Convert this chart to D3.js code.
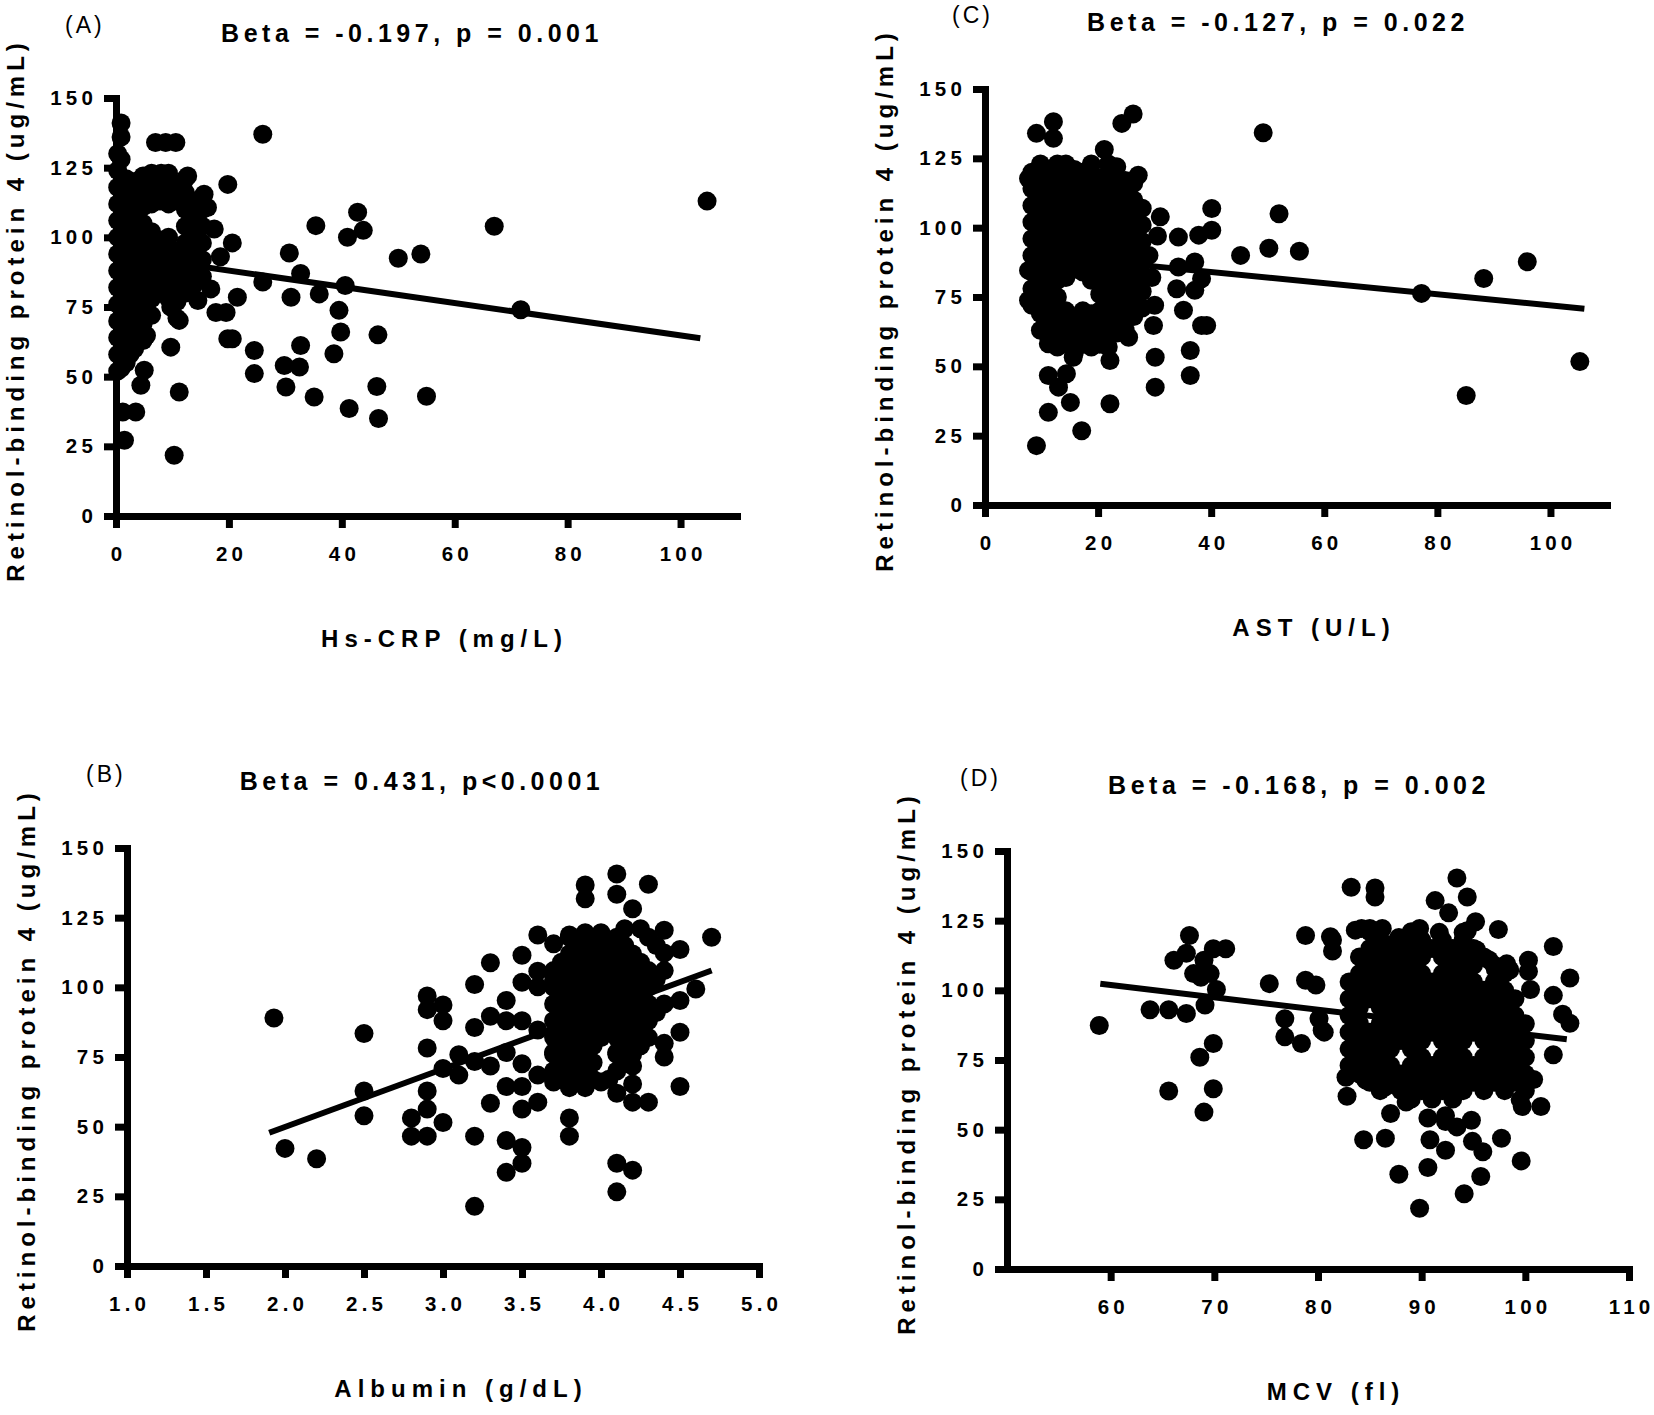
<!DOCTYPE html>
<html>
<head>
<meta charset="utf-8">
<script src="https://cdn.jsdelivr.net/npm/d3@7"></script>
<style>
  body { margin: 0; background: #fff; }
  svg text { font-family: "Liberation Sans", Arial, sans-serif; fill: #000; }
</style>
</head>
<body>
<div id="chart"></div>
<script>
// ---- values ----
const rbpTicks = [0, 25, 50, 75, 100, 125, 150];
const crpTicks = [0, 20, 40, 60, 80, 100];
const astTicks = [0, 20, 40, 60, 80, 100];
const albTicks = [1.0, 1.5, 2.0, 2.5, 3.0, 3.5, 4.0, 4.5, 5.0];
const mcvTicks = [60, 70, 80, 90, 100, 110];

// regression lines: [intercept, slope, xFrom, xTo]
const crpFit = [93.9, -0.291, 0, 103.5];
const astFit = [92, -0.2, 9, 106];
const albFit = [8.3, 20.8, 1.9, 4.7];
const mcvFit = [128.5, -0.443, 59, 104];

// (A) Hs-CRP vs RBP4
const crpPoints = [
  [26,137],[7,134],[8.8,134],[10.6,134],[0.9,141],[0.9,136],[0.9,128],[12.7,122],[19.8,119],[8,123],
  [15.6,115.5],[16.2,110.7],[17.4,103],[20.6,98],[18.5,93],[30.7,94.4],[35.4,104.2],[42.8,109],[43.8,102.5],[41,100],
  [32.7,87],[26,84],[40.6,82.7],[21.5,78.5],[31,78.5],[36,79.7],[39.5,73.8],[17.7,73],[19.5,73],[39.8,66],
  [19.8,63.6],[20.6,63.6],[24.5,59.4],[32.7,61.2],[38.6,58.2],[24.5,51.1],[29.8,54],[32.5,53.5],[30.1,46.3],[35.1,42.7],
  [41.3,38.6],[9.7,60.6],[11.2,44.5],[10.3,21.8],[5,52.3],[4.4,46.9],[1.2,37.3],[3.5,37.3],[1.5,27.2],[5.4,64.8],
  [9.7,75],[11.2,70.2],[14.5,77.3],[16.8,81.5],[104.7,113],[67,104],[71.7,74],[50,92.5],[54,94],[55,43],
  [46.2,46.5],[46.4,65],[46.5,35],[0.9,53],[2.5,58],
  [0.3,52],[0.3,58],[0.3,64],[0.3,70],[0.3,76],[0.3,82],[0.3,88],[0.3,94],[0.3,100],[0.3,106],[0.3,112],[0.3,118],[0.3,124],[0.3,130],
  [1.8,55],[1.8,61],[1.8,67],[1.8,73],[1.8,79],[1.8,85],[1.8,91],[1.8,97],[1.8,103],[1.8,109],[1.8,115],[1.8,121],
  [3.3,60],[3.3,66],[3.3,72],[3.3,78],[3.3,84],[3.3,90],[3.3,96],[3.3,102],[3.3,108],[3.3,114],[3.3,120],
  [4.8,63],[4.8,69],[4.8,75],[4.8,81],[4.8,87],[4.8,93],[4.8,99],[4.8,105],[4.8,111],[4.8,117],[4.8,122],
  [6.3,72],[6.3,78],[6.3,84],[6.3,90],[6.3,96],[6.3,102],[6.3,112],[6.3,118],[6.3,123],
  [7.8,81],[7.8,87],[7.8,93],[7.8,99],[7.8,113],[7.8,119],
  [9.3,78],[9.3,84],[9.3,90],[9.3,96],[9.3,100],[9.3,112],[9.3,118],[9.3,123],
  [10.8,71],[10.8,77],[10.8,83],[10.8,89],[10.8,95],[10.8,113],[10.8,119],
  [12.3,80],[12.3,86],[12.3,92],[12.3,98],[12.3,104],[12.3,110],[12.3,116],[12.3,121],
  [13.8,83],[13.8,89],[13.8,95],[13.8,101],[13.8,107],[13.8,113],
  [15.3,86],[15.3,92],[15.3,98],[15.3,104],[15.3,110]
];

// (C) AST vs RBP4
const astPoints = [
  [9.1,134],[12.1,138.2],[12.1,132.2],[24.2,137.6],[26.2,141],[21.1,128.2],[7.7,117.7],[27.1,118.9],[31,103.9],[40.1,106.9],
  [40.1,99.1],[37.8,97.3],[34.2,96.6],[52,105],[50.2,92.6],[45.2,90],[37.1,87.6],[38.3,81.6],[34.2,85.8],[33.9,78],
  [37.1,77.4],[35.1,70.2],[38.3,64.7],[39.2,64.7],[36.3,55.7],[36.3,46.7],[30.1,53.3],[30.1,42.5],[22.1,52.1],[22.1,36.5],
  [17.1,26.8],[9.1,21.4],[11.2,33.4],[15.1,37],[13,42.5],[11.2,46.7],[14.4,47.3],[11.2,58.1],[15.6,53.3],[29.8,64.7],
  [25.4,60.5],[7.7,73.8],[7.7,84.6],[105.2,51.7],[95.9,87.7],[88.2,81.7],[85.1,39.5],[77.2,76.3],[55.6,91.5],[49.2,134.2],
  [30.5,97],[29.5,82],[30,72],[29,90],
  [8.3,72],[8.3,78],[8.3,84],[8.3,90],[8.3,96],[8.3,102],[8.3,108],[8.3,114],[8.3,120],
  [9.8,63],[9.8,69],[9.8,75],[9.8,81],[9.8,87],[9.8,93],[9.8,99],[9.8,105],[9.8,111],[9.8,117],[9.8,123],
  [11.3,60],[11.3,66],[11.3,72],[11.3,78],[11.3,84],[11.3,90],[11.3,96],[11.3,102],[11.3,108],[11.3,114],[11.3,120],
  [12.8,57],[12.8,63],[12.8,69],[12.8,75],[12.8,81],[12.8,87],[12.8,93],[12.8,99],[12.8,105],[12.8,111],[12.8,117],[12.8,123],
  [14.3,58],[14.3,64],[14.3,70],[14.3,82],[14.3,88],[14.3,94],[14.3,100],[14.3,106],[14.3,112],[14.3,118],[14.3,123],
  [15.8,55],[15.8,61],[15.8,67],[15.8,85],[15.8,91],[15.8,97],[15.8,103],[15.8,109],[15.8,115],[15.8,121],
  [17.3,58],[17.3,64],[17.3,70],[17.3,84],[17.3,90],[17.3,96],[17.3,102],[17.3,108],[17.3,114],[17.3,120],
  [18.8,57],[18.8,63],[18.8,69],[18.8,81],[18.8,87],[18.8,93],[18.8,99],[18.8,105],[18.8,111],[18.8,117],[18.8,123],
  [20.3,58],[20.3,64],[20.3,70],[20.3,76],[20.3,82],[20.3,88],[20.3,94],[20.3,100],[20.3,106],[20.3,112],[20.3,118],
  [21.8,57],[21.8,63],[21.8,69],[21.8,75],[21.8,81],[21.8,87],[21.8,93],[21.8,99],[21.8,105],[21.8,111],[21.8,117],[21.8,123],
  [23.3,62],[23.3,68],[23.3,74],[23.3,80],[23.3,86],[23.3,92],[23.3,98],[23.3,104],[23.3,110],[23.3,116],[23.3,122],
  [24.8,63],[24.8,69],[24.8,75],[24.8,81],[24.8,87],[24.8,93],[24.8,99],[24.8,105],[24.8,111],[24.8,117],
  [26.3,68],[26.3,74],[26.3,80],[26.3,86],[26.3,92],[26.3,98],[26.3,104],[26.3,110],[26.3,116],
  [27.8,71],[27.8,77],[27.8,83],[27.8,89],[27.8,95],[27.8,101],[27.8,107]
];

// (B) Albumin vs RBP4
const albPoints = [
  [1.93,89],[2.0,42.2],[2.2,38.5],[2.5,83.4],[2.5,62.8],[2.5,53.9],[2.8,53.1],[2.8,46.6],[2.9,96.9],[2.9,92],
  [2.9,78.2],[2.9,62.8],[2.9,56.3],[2.9,46.6],[3.0,93.7],[3.0,88],[3.0,70.9],[3.0,51.5],[3.1,75.8],[3.1,68.5],
  [3.2,101],[3.3,108.8],[3.2,85.6],[3.2,73.4],[3.3,89.6],[3.3,71.8],[3.2,46.6],[3.2,21.4],[3.3,58.4],[3.4,95.3],
  [3.4,88],[3.4,76.6],[3.4,64.4],[3.4,45],[3.4,33.6],[3.5,111.5],[3.5,101.8],[3.5,88],[3.5,72.6],[3.5,64.4],
  [3.5,56.3],[3.5,42.5],[3.5,36.9],[3.6,118.8],[3.6,105.8],[3.6,100.2],[3.6,84.7],[3.6,68.5],[3.6,58.8],[3.7,115.6],
  [3.7,102.6],[3.7,76.6],[3.7,66],[3.8,118.8],[3.8,53.1],[3.8,46.6],[3.9,119.6],[4.0,119.6],[3.9,136.7],[3.9,131.8],
  [4.1,140.7],[4.1,133.4],[4.2,128.2],[4.3,137],[4.1,36.9],[4.2,34.4],[4.1,26.6],[4.3,58.8],[4.4,120.5],[4.4,112.3],
  [4.4,75],[4.5,113.6],[4.5,83.9],[4.5,64.4],[4.5,95.3],[4.6,99.4],[4.7,118],[4.4,79.9],[4.2,58.8],[4.1,62],
  [4.1,76.6],[4.2,71.8],[4.2,65.3],
  [3.7,70],[3.7,76],[3.7,82],[3.7,88],[3.7,94],[3.7,100],[3.7,106],
  [3.75,67],[3.75,73],[3.75,79],[3.75,85],[3.75,91],[3.75,97],[3.75,103],[3.75,109],
  [3.8,64],[3.8,70],[3.8,76],[3.8,82],[3.8,88],[3.8,94],[3.8,100],[3.8,106],[3.8,112],[3.8,118],
  [3.85,67],[3.85,73],[3.85,79],[3.85,85],[3.85,91],[3.85,97],[3.85,103],[3.85,109],[3.85,115],
  [3.9,64],[3.9,70],[3.9,76],[3.9,82],[3.9,88],[3.9,94],[3.9,100],[3.9,106],[3.9,112],[3.9,118],
  [3.95,67],[3.95,73],[3.95,79],[3.95,85],[3.95,91],[3.95,97],[3.95,103],[3.95,109],[3.95,115],
  [4.0,66],[4.0,82],[4.0,88],[4.0,94],[4.0,100],[4.0,106],[4.0,112],[4.0,118],
  [4.05,67],[4.05,85],[4.05,91],[4.05,97],[4.05,103],[4.05,109],[4.05,115],
  [4.1,70],[4.1,76],[4.1,82],[4.1,88],[4.1,94],[4.1,100],[4.1,106],[4.1,112],[4.1,118],
  [4.15,73],[4.15,79],[4.15,85],[4.15,91],[4.15,97],[4.15,103],[4.15,109],[4.15,115],[4.15,121],
  [4.2,76],[4.2,82],[4.2,88],[4.2,94],[4.2,100],[4.2,106],[4.2,112],
  [4.25,79],[4.25,85],[4.25,91],[4.25,97],[4.25,103],[4.25,109],[4.25,121],
  [4.3,82],[4.3,88],[4.3,94],[4.3,100],[4.3,106],[4.3,118],
  [4.35,91],[4.35,103],[4.35,115],
  [4.4,94],[4.4,106]
];

// (D) MCV vs RBP4
const mcvPoints = [
  [58.9,87.4],[63.8,93],[65.6,93],[65.6,63.9],[67.3,113.3],[67.6,119.7],[66.1,110.8],[67.3,91.7],[68,106],[69,110.8],
  [68.7,104.7],[69.6,106],[69.1,94.7],[69.9,114.9],[71.1,114.9],[70.2,100.3],[68.6,76],[69.9,80.9],[69.9,64.7],[69,56.3],
  [75.3,102.4],[76.8,89.8],[76.8,83.3],[78.4,80.9],[78.8,119.7],[78.8,103.6],[79.8,101.9],[80.1,89.8],[80.6,85],[81.4,118.1],
  [81.4,114.1],[83.2,137],[85.5,136.7],[85.5,133.5],[82.7,68.8],[82.8,62],[84.4,46.4],[86.5,46.9],[87,55.8],[87.8,34],
  [88.5,59.9],[89.8,21.8],[90.6,54.2],[90.8,46.4],[90.6,36.4],[92.3,42.6],[91.3,132.2],[92.6,127.8],[93.4,140.3],[94.4,133.5],
  [94.1,27],[94.9,45.8],[95.9,42.1],[95.7,33.2],[97.7,46.9],[97.4,121.8],[99.6,38.8],[102.7,115.7],[102.7,98.2],[103.6,91.4],
  [104.3,88.2],[104.3,104.4],[102.7,76.9],[101.5,58.3],[99.7,58.3],[100.8,68],[100.3,110.8],[100.3,106.8],[100.5,100.3],[95.2,124.6],
  [94.4,121.4],[89.8,122.2],[87.2,116.5],[88,114],[84.2,122.2],[85,122.2],[86.2,122.2],[98.2,109.5],[97.1,107.6],[99.5,60.7],
  [92.3,52.9],[93.4,51],[94.8,53.4],[92.3,55],[83.8,77.3],[84.6,67.8],[86.5,65.4],[80.4,85.7],[81.2,119.2],
  [83.6,121.6],[85.2,121.6],[87.8,119],[91.7,120.8],[94,120.8],[95.3,114.5],[96.5,110.9],[98.5,107.3],
  [83,73],[83,79],[83,85],[83,91],[83,97],[83,103],
  [84,70],[84,76],[84,82],[84,88],[84,94],[84,100],[84,106],[84,112],
  [85,67],[85,73],[85,79],[85,85],[85,97],[85,103],[85,109],[85,115],[85,121],
  [86,64],[86,70],[86,76],[86,82],[86,88],[86,94],[86,100],[86,106],[86,112],[86,118],
  [87,67],[87,73],[87,79],[87,85],[87,91],[87,97],[87,103],[87,109],[87,115],
  [88,64],[88,70],[88,82],[88,88],[88,94],[88,100],[88,106],[88,112],[88,118],
  [89,61],[89,67],[89,73],[89,79],[89,85],[89,91],[89,97],[89,103],[89,109],[89,115],[89,121],
  [90,64],[90,70],[90,76],[90,82],[90,88],[90,94],[90,100],[90,106],[90,112],[90,118],
  [91,61],[91,67],[91,73],[91,85],[91,91],[91,97],[91,103],[91,115],
  [92,64],[92,70],[92,76],[92,82],[92,88],[92,94],[92,100],[92,106],[92,112],[92,118],
  [93,61],[93,67],[93,73],[93,79],[93,85],[93,91],[93,97],[93,103],[93,109],[93,115],
  [94,64],[94,70],[94,76],[94,82],[94,88],[94,94],[94,100],[94,106],[94,112],[94,118],
  [95,67],[95,73],[95,85],[95,91],[95,97],[95,103],[95,109],[95,115],
  [96,64],[96,70],[96,76],[96,82],[96,88],[96,94],[96,100],[96,112],
  [97,67],[97,73],[97,79],[97,85],[97,91],[97,97],[97,103],[97,109],
  [98,64],[98,70],[98,76],[98,82],[98,88],[98,94],[98,100],[98,106],
  [99,67],[99,73],[99,79],[99,85],[99,91],[99,97],
  [100,64],[100,70],[100,76],[100,82],[100,88]
];

// ---- layout ----
const width = 1654, height = 1415;
const fontFam = '"Liberation Sans", Arial, sans-serif';
const dotR = 9.5;

const svg = d3.select("#chart").append("svg")
  .attr("width", width)
  .attr("height", height)
  .attr("viewBox", [0, 0, width, height]);

svg.append("rect").attr("width", width).attr("height", height).attr("fill", "#fff");

const panels = [
  {tag: "(A)", tagXY: [65, 33], title: "Beta = -0.197, p = 0.001", titleXY: [410, 42],
   xLabel: "Hs-CRP (mg/L)", pts: crpPoints, fit: crpFit, ticks: crpTicks, dom: [0, 110],
   fmt: d3.format("d"), box: {l: 116, r: 737, t: 98, b: 516}},
  {tag: "(C)", tagXY: [952, 23], title: "Beta = -0.127, p = 0.022", titleXY: [1276, 31],
   xLabel: "AST (U/L)", pts: astPoints, fit: astFit, ticks: astTicks, dom: [0, 110],
   fmt: d3.format("d"), box: {l: 985, r: 1607, t: 89, b: 505}},
  {tag: "(B)", tagXY: [86, 782], title: "Beta = 0.431, p<0.0001", titleXY: [420, 790],
   xLabel: "Albumin (g/dL)", pts: albPoints, fit: albFit, ticks: albTicks, dom: [1, 5],
   fmt: d3.format(".1f"), box: {l: 127, r: 759, t: 848, b: 1266}},
  {tag: "(D)", tagXY: [960, 786], title: "Beta = -0.168, p = 0.002", titleXY: [1297, 794],
   xLabel: "MCV (fl)", pts: mcvPoints, fit: mcvFit, ticks: mcvTicks, dom: [50, 110],
   fmt: d3.format("d"), box: {l: 1007, r: 1629, t: 851, b: 1269}}
];

panels.forEach(p => {
  const g = svg.append("g");
  const x = d3.scaleLinear().domain(p.dom).range([p.box.l, p.box.r]);
  const y = d3.scaleLinear().domain([0, 150]).range([p.box.b, p.box.t]);

  // dots
  g.append("g")
    .selectAll("circle")
    .data(p.pts)
    .join("circle")
    .attr("cx", d => x(d[0]))
    .attr("cy", d => y(d[1]))
    .attr("r", dotR)
    .attr("fill", "#000");

  // regression line
  const [b0, b1, x0, x1] = p.fit;
  g.append("line")
    .attr("x1", x(x0)).attr("y1", y(b0 + b1 * x0))
    .attr("x2", x(x1)).attr("y2", y(b0 + b1 * x1))
    .attr("stroke", "#000")
    .attr("stroke-width", 6);

  // axes
  const xAxis = g.append("g")
    .attr("transform", `translate(0,${p.box.b})`)
    .call(d3.axisBottom(x).tickValues(p.ticks).tickFormat(p.fmt)
      .tickSize(12).tickSizeOuter(0).tickPadding(18));
  const yAxis = g.append("g")
    .attr("transform", `translate(${p.box.l},0)`)
    .call(d3.axisLeft(y).tickValues(rbpTicks).tickFormat(d3.format("d"))
      .tickSize(12).tickSizeOuter(0).tickPadding(7));

  [xAxis, yAxis].forEach(a => {
    a.attr("font-family", fontFam).attr("font-size", 20.5).attr("font-weight", "bold");
    a.select(".domain").attr("stroke", "#000").attr("stroke-width", 7).attr("stroke-linecap", "square");
    a.selectAll(".tick line").attr("stroke", "#000").attr("stroke-width", 7);
    a.selectAll(".tick text").attr("fill", "#000").attr("letter-spacing", 4.2);
  });
  xAxis.selectAll(".tick text").attr("dx", 2.1);

  // panel tag and title
  g.append("text")
    .attr("x", p.tagXY[0]).attr("y", p.tagXY[1])
    .attr("font-size", 23)
    .attr("letter-spacing", 3)
    .text(p.tag);

  g.append("text")
    .attr("x", p.titleXY[0] + 2).attr("y", p.titleXY[1])
    .attr("text-anchor", "middle")
    .attr("font-size", 25)
    .attr("font-weight", "bold")
    .attr("letter-spacing", 4.5)
    .text(p.title);

  // axis titles
  g.append("text")
    .attr("x", (p.box.l + p.box.r) / 2 + 18)
    .attr("y", p.box.b + 131)
    .attr("text-anchor", "middle")
    .attr("font-size", 24)
    .attr("font-weight", "bold")
    .attr("letter-spacing", 6)
    .text(p.xLabel);

  g.append("text")
    .attr("transform", `translate(${p.box.l - 92},${(p.box.t + p.box.b) / 2 + 3}) rotate(-90)`)
    .attr("text-anchor", "middle")
    .attr("font-size", 24)
    .attr("font-weight", "bold")
    .attr("letter-spacing", 5)
    .text("Retinol-binding protein 4 (ug/mL)");
});
</script>
</body>
</html>
